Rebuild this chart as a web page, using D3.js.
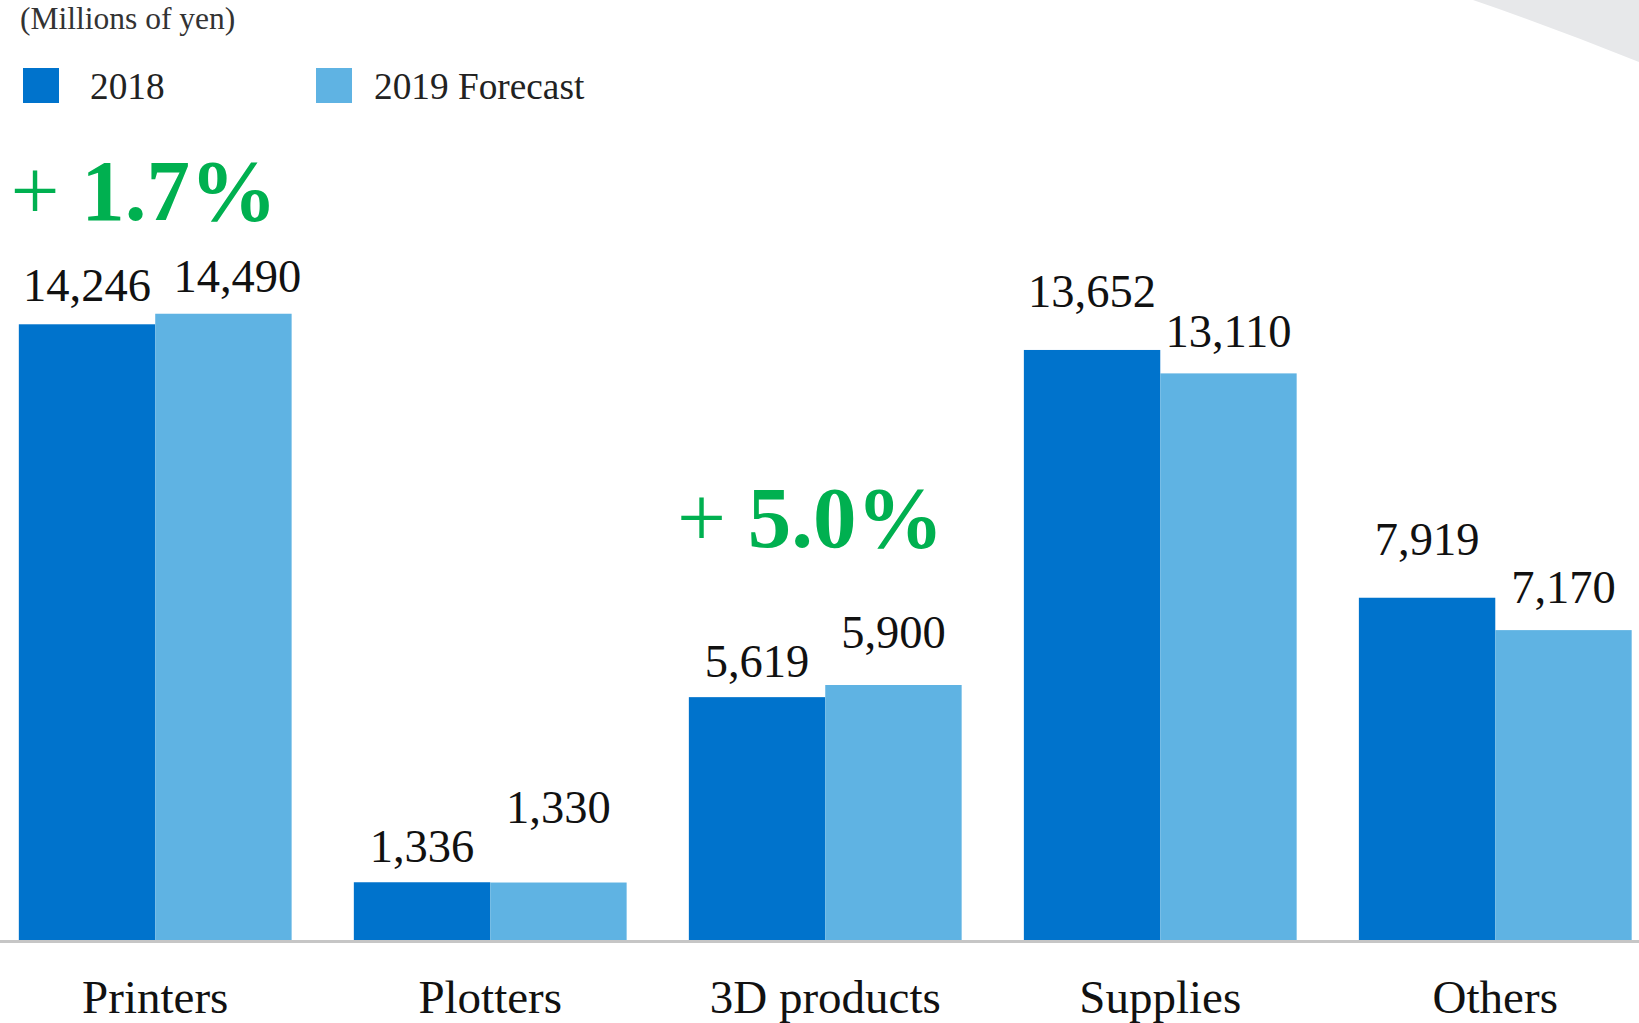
<!DOCTYPE html>
<html>
<head>
<meta charset="utf-8">
<script src="https://cdn.jsdelivr.net/npm/d3@7"></script>
<style>
  html, body { margin: 0; padding: 0; background: #ffffff; }
  svg { display: block; }
  text { font-family: "Liberation Serif", "Times New Roman", serif; }
</style>
</head>
<body>
<svg id="chart" width="1639" height="1023"></svg>
<script>
// ---- data ----
const categories = ["Printers", "Plotters", "3D products", "Supplies", "Others"];
const seriesNames = ["2018", "2019 Forecast"];
const values2018 = [14246, 1336, 5619, 13652, 7919];
const values2019 = [14490, 1330, 5900, 13110, 7170];
const growthLabels = ["+ 1.7%", "+ 5.0%"];
const unitLabel = "(Millions of yen)";

// ---- layout (not data) ----
const W = 1639, H = 1023;
const baseY = 940;
const pxPerUnit = 0.04322;
const labelLift2018 = [23, 20, 20, 43, 43];
const labelLift2019 = [22, 60, 37, 26, 27];
const labelShift2019 = [14, 0, 0, 0, 0];
const colors = ["#0073cc", "#5fb3e3"];

const svg = d3.select("#chart");

// decorative swoosh top-right
svg.append("path")
  .attr("d", "M1473,0 Q1555,28 1639,62 L1639,0 Z")
  .attr("fill", "#e7e8ea");

const x0 = d3.scaleBand()
  .domain(categories)
  .range([-12.3, 1662.8])
  .paddingInner(0.1857)
  .paddingOuter(0.0929);

const x1 = d3.scaleBand()
  .domain(seriesNames)
  .range([0, x0.bandwidth()]);

const maxV = d3.max(values2019.concat(values2018));
const y = d3.scaleLinear()
  .domain([0, maxV])
  .range([baseY, baseY - maxV * pxPerUnit]);

const rows = categories.map((c, i) => ({
  cat: c, i,
  vals: [values2018[i], values2019[i]]
}));

const fmt = d3.format(",");

const groups = svg.append("g").selectAll("g")
  .data(rows).join("g")
  .attr("transform", d => `translate(${x0(d.cat)},0)`);

groups.selectAll("rect")
  .data(d => d.vals.map((v, k) => ({ v, k, i: d.i })))
  .join("rect")
  .attr("x", d => x1(seriesNames[d.k]))
  .attr("y", d => y(d.v))
  .attr("width", x1.bandwidth())
  .attr("height", d => baseY - y(d.v))
  .attr("fill", d => colors[d.k]);

groups.selectAll("text.val")
  .data(d => d.vals.map((v, k) => ({ v, k, i: d.i })))
  .join("text")
  .attr("class", "val")
  .attr("x", d => x1(seriesNames[d.k]) + x1.bandwidth() / 2 + (d.k === 1 ? labelShift2019[d.i] : 0))
  .attr("y", d => y(d.v) - (d.k === 0 ? labelLift2018[d.i] : labelLift2019[d.i]))
  .attr("text-anchor", "middle")
  .attr("font-size", 46.5)
  .attr("fill", "#111")
  .text(d => fmt(d.v));

// baseline axis
const xAxis = d3.axisBottom(x0).tickSize(0).tickPadding(0);
const axisG = svg.append("g")
  .attr("transform", `translate(0,${baseY})`)
  .call(xAxis);
axisG.select(".domain").remove();
axisG.selectAll("text")
  .attr("y", 73)
  .attr("dy", 0)
  .attr("font-size", 47)
  .attr("font-family", "Liberation Serif, Times New Roman, serif")
  .attr("fill", "#111");
svg.append("line")
  .attr("x1", 0).attr("x2", W)
  .attr("y1", baseY + 1.5).attr("y2", baseY + 1.5)
  .attr("stroke", "#c6c6c6")
  .attr("stroke-width", 3);

// unit label
svg.append("text")
  .attr("x", 20).attr("y", 29)
  .attr("font-size", 31.5)
  .attr("fill", "#333")
  .text(unitLabel);

// legend
const legendX = [23, 316];
const legendTextX = [90, 374];
const lg = svg.append("g");
seriesNames.forEach((s, k) => {
  lg.append("rect")
    .attr("x", legendX[k]).attr("y", 68)
    .attr("width", 36).attr("height", 35)
    .attr("fill", colors[k]);
  lg.append("text")
    .attr("x", legendTextX[k]).attr("y", 99)
    .attr("font-size", 37.3)
    .attr("fill", "#222")
    .text(s);
});

// growth annotations
const growthPos = [[10.5, 220], [677, 547]];
growthLabels.forEach((g, k) => {
  const t = svg.append("text")
    .attr("x", growthPos[k][0]).attr("y", growthPos[k][1])
    .attr("font-size", 87)
    .attr("fill", "#00b050");
  const parts = g.split(" ");
  t.append("tspan").attr("font-weight", "normal").text(parts[0] + " ");
  t.append("tspan").attr("font-weight", "bold").text(parts[1]);
});
</script>
</body>
</html>
